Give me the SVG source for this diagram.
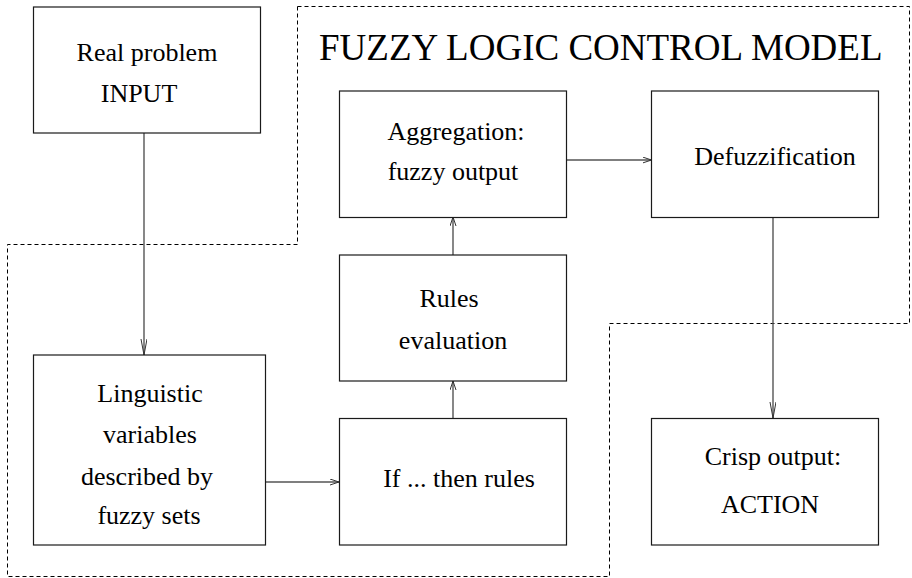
<svg xmlns="http://www.w3.org/2000/svg" width="912" height="578" viewBox="0 0 912 578">
  <style>
    .box { fill: #ffffff; stroke: #1a1a1a; stroke-width: 1.2; }
    .lbl { font-family: "Liberation Serif", "Times New Roman", serif; font-size: 26px; fill: #000; text-anchor: middle; }
    .title { font-family: "Liberation Serif", "Times New Roman", serif; font-size: 37px; fill: #000; }
    .conn { fill: none; stroke: #555; stroke-width: 1.4; }
    .zone { fill: none; stroke: #000; stroke-width: 1; stroke-dasharray: 4 3; }
  </style>
  <defs>
    <marker id="headShort" markerUnits="userSpaceOnUse" markerWidth="10" markerHeight="8" refX="9" refY="3" orient="auto">
      <path d="M0,0 L9,3 L0,6" fill="none" stroke="#333" stroke-width="1"/>
    </marker>
    <marker id="headLong" markerUnits="userSpaceOnUse" markerWidth="17" markerHeight="8" refX="16" refY="3" orient="auto">
      <path d="M0,0 L16,3 L0,6" fill="none" stroke="#333" stroke-width="1"/>
    </marker>
  </defs>

  <rect width="912" height="578" fill="#ffffff"/>

  <!-- boundary of the fuzzy logic control model -->
  <path class="zone" d="M297.5,6.5 H909.5 V323.5 H609.5 V576.5 H7.5 V244.5 H297.5 Z"/>
  <text class="title" x="319" y="59.5">FUZZY LOGIC CONTROL MODEL</text>

  <g id="connectors">
    <line class="conn" x1="144" y1="133" x2="144" y2="355" marker-end="url(#headLong)"/>
    <line class="conn" x1="266" y1="482" x2="339" y2="482" marker-end="url(#headShort)"/>
    <line class="conn" x1="453" y1="418" x2="453" y2="381" marker-end="url(#headShort)"/>
    <line class="conn" x1="453" y1="255" x2="453" y2="217" marker-end="url(#headShort)"/>
    <line class="conn" x1="567" y1="160" x2="651.5" y2="160" marker-end="url(#headShort)"/>
    <line class="conn" x1="773" y1="217.5" x2="773" y2="418" marker-end="url(#headLong)"/>
  </g>

  <g id="real-problem">
    <rect class="box" x="33.5" y="7" width="227" height="126"/>
    <text class="lbl" x="147" y="61">Real problem</text>
    <text class="lbl" x="139" y="102">INPUT</text>
  </g>

  <g id="linguistic">
    <rect class="box" x="33.5" y="355" width="232" height="190"/>
    <text class="lbl" x="150" y="402">Linguistic</text>
    <text class="lbl" x="150" y="443">variables</text>
    <text class="lbl" x="147" y="485">described by</text>
    <text class="lbl" x="149" y="524">fuzzy sets</text>
  </g>

  <g id="if-then">
    <rect class="box" x="339.5" y="418.5" width="227" height="126.5"/>
    <text class="lbl" x="459" y="487">If ... then rules</text>
  </g>

  <g id="rules-evaluation">
    <rect class="box" x="339.5" y="255" width="227" height="126"/>
    <text class="lbl" x="449" y="307">Rules</text>
    <text class="lbl" x="453" y="349">evaluation</text>
  </g>

  <g id="aggregation">
    <rect class="box" x="339.5" y="91" width="227" height="126.5"/>
    <text class="lbl" x="456" y="140">Aggregation:</text>
    <text class="lbl" x="453" y="180">fuzzy output</text>
  </g>

  <g id="defuzzification">
    <rect class="box" x="651.5" y="91" width="227" height="126.5"/>
    <text class="lbl" x="775" y="165">Defuzzification</text>
  </g>

  <g id="crisp-output">
    <rect class="box" x="651.5" y="418.5" width="227" height="126.5"/>
    <text class="lbl" x="773" y="465">Crisp output:</text>
    <text class="lbl" x="770" y="513">ACTION</text>
  </g>
</svg>
